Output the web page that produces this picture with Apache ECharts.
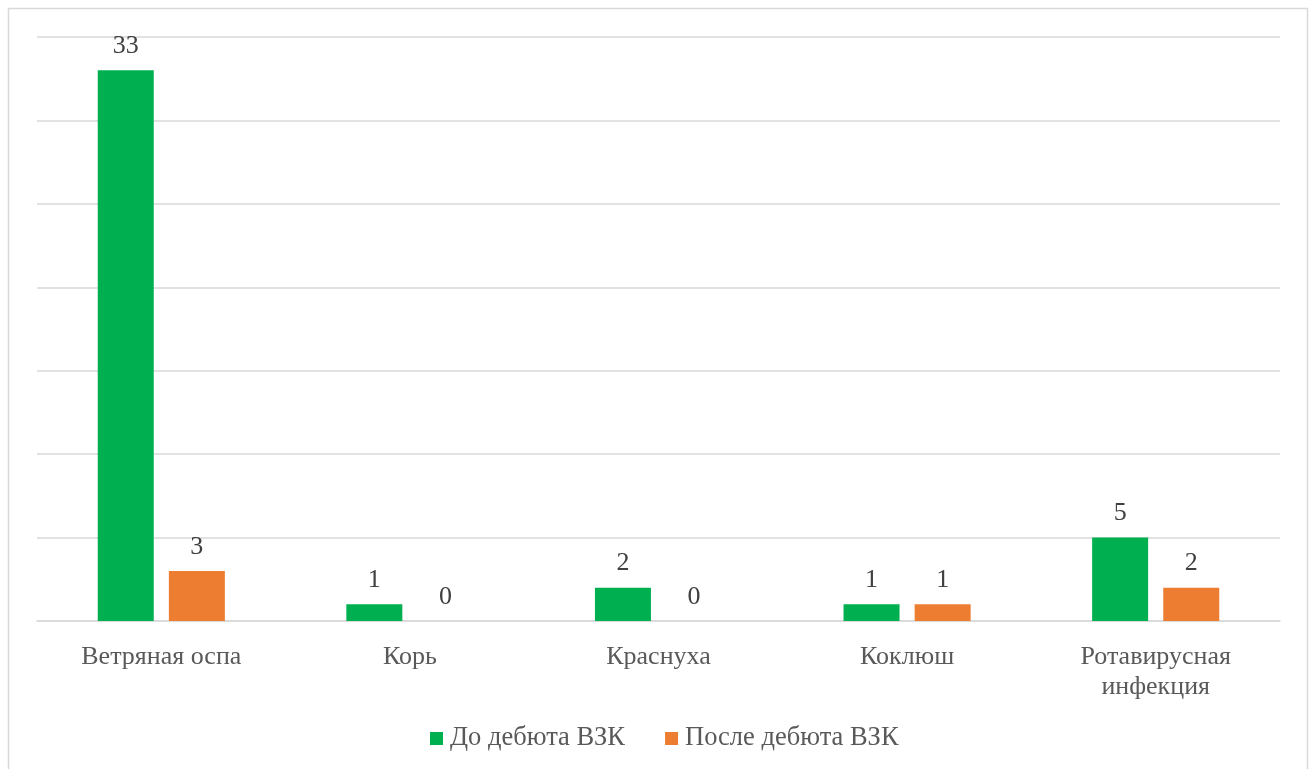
<!DOCTYPE html>
<html>
<head>
<meta charset="utf-8">
<style>
  html, body { margin: 0; padding: 0; background: #fff; }
  #chart { width: 1315px; height: 769px; }
</style>
<script src="https://cdn.jsdelivr.net/npm/echarts@6/dist/echarts.min.js"></script>
</head>
<body>
<div id="chart"></div>
<script>
// Infections before and after IBD onset
const categories = ['Ветряная оспа', 'Корь', 'Краснуха', 'Коклюш', 'Ротавирусная\nинфекция'];
const beforeOnset = [33, 1, 2, 1, 5];
const afterOnset = [3, 0, 0, 1, 2];
const seriesNames = ['До дебюта ВЗК', 'После дебюта ВЗК'];

const FONT = '"Liberation Serif", "Times New Roman", serif';
const chart = echarts.init(document.getElementById('chart'), null, { renderer: 'canvas' });

const labelStyle = {
  show: true,
  position: 'top',
  distance: 11,
  fontFamily: FONT,
  fontSize: 26,
  color: '#404040'
};

chart.setOption({
  animation: false,
  backgroundColor: '#ffffff',
  graphic: [{
    type: 'rect',
    shape: { x: 8.5, y: 8.5, width: 1299, height: 800 },
    style: { fill: 'none', stroke: '#d9d9d9', lineWidth: 1.5 },
    silent: true,
    z: -1
  }],
  grid: { left: 37, right: 35, top: 37, bottom: 148, containLabel: false },
  legend: {
    bottom: 12,
    left: 425,
    itemWidth: 13,
    itemHeight: 13,
    itemGap: 40,
    icon: 'rect',
    textStyle: { fontFamily: FONT, fontSize: 26.5, color: '#595959', padding: [0, 0, 0, 2] },
    data: seriesNames
  },
  xAxis: {
    type: 'category',
    data: categories,
    axisTick: { show: false },
    axisLine: { lineStyle: { color: '#d9d9d9', width: 1.5 } },
    axisLabel: {
      fontFamily: FONT,
      fontSize: 26,
      color: '#595959',
      margin: 21,
      lineHeight: 30,
      interval: 0
    }
  },
  yAxis: {
    type: 'value',
    min: 0,
    max: 35,
    interval: 5,
    axisLabel: { show: false },
    axisLine: { show: false },
    axisTick: { show: false },
    splitLine: { lineStyle: { color: '#d9d9d9', width: 1.5 } }
  },
  series: [
    {
      name: seriesNames[0],
      type: 'bar',
      data: beforeOnset,
      barWidth: 56,
      barGap: '27%',
      itemStyle: { color: '#00b050' },
      label: labelStyle
    },
    {
      name: seriesNames[1],
      type: 'bar',
      data: afterOnset,
      barWidth: 56,
      itemStyle: { color: '#ed7d31' },
      label: labelStyle
    }
  ]
});
</script>
</body>
</html>
